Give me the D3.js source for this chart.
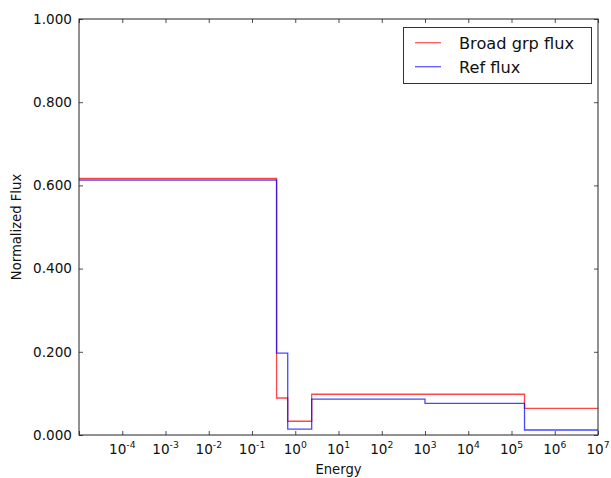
<!DOCTYPE html>
<html>
<head>
<meta charset="utf-8">
<script src="https://cdn.jsdelivr.net/npm/d3@7"></script>
<style>
  html, body { margin: 0; padding: 0; background: #fff; }
  svg { display: block; font-family: "DejaVu Sans", sans-serif; }
</style>
</head>
<body>
<svg id="chart" width="611" height="478"></svg>
<script>
// Group boundaries (energy) and normalized flux per group
const broadEdges = [1e-5, 0.37, 0.67, 2.4, 2e5, 1e7];
const broadFlux  = [0.617, 0.089, 0.033, 0.098, 0.064];
const refEdges   = [1e-5, 0.37, 0.67, 2.4, 1e3, 2e5, 1e7];
const refFlux    = [0.613, 0.197, 0.014, 0.086, 0.076, 0.012];

const xTickExps   = [-5, -4, -3, -2, -1, 0, 1, 2, 3, 4, 5, 6, 7];
const xLabelExps  = [-4, -3, -2, -1, 0, 1, 2, 3, 4, 5, 6, 7];
const yTicks      = [0, 0.2, 0.4, 0.6, 0.8, 1.0];
const legendNames = ["Broad grp flux", "Ref flux"];
const colors      = ["#ff0000", "#0000ff"];

const frame = { left: 79, top: 19, right: 598, bottom: 435 };
const svg = d3.select("#chart");

const x = d3.scaleLog().domain([1e-5, 1e7]).range([frame.left, frame.right]);
const y = d3.scaleLinear().domain([0, 1]).range([frame.bottom, frame.top]);

// Build step path: horizontal at each group's value across [edge_i, edge_i+1]
function stepPoints(edges, vals) {
  const pts = [];
  vals.forEach((v, i) => {
    pts.push([edges[i], v]);
    pts.push([edges[i + 1], v]);
  });
  return pts;
}
const line = d3.line().x(d => x(d[0])).y(d => y(d[1]));

const series = [
  { pts: stepPoints(broadEdges, broadFlux), color: colors[0] },
  { pts: stepPoints(refEdges, refFlux), color: colors[1] }
];

const plot = svg.append("g");
series.forEach(s => {
  plot.append("path")
    .attr("d", line(s.pts))
    .attr("fill", "none")
    .attr("stroke", s.color)
    .attr("stroke-opacity", 0.72)
    .attr("stroke-width", 1.3);
});

// Axes: ticks pointing inward on all four sides
const tickLen = 4;
const axisColor = "#222";
const tickFont = 13.6;

const axBottom = svg.append("g").attr("transform", `translate(0,${frame.bottom})`)
  .call(d3.axisBottom(x).tickValues(xTickExps.map(e => Math.pow(10, e)))
    .tickSize(-tickLen).tickFormat(() => ""));
const axTop = svg.append("g").attr("transform", `translate(0,${frame.top})`)
  .call(d3.axisTop(x).tickValues(xTickExps.map(e => Math.pow(10, e)))
    .tickSize(-tickLen).tickFormat(() => ""));
const axLeft = svg.append("g").attr("transform", `translate(${frame.left},0)`)
  .call(d3.axisLeft(y).tickValues(yTicks).tickSize(-tickLen).tickPadding(7)
    .tickFormat(d3.format(".3f")));
const axRight = svg.append("g").attr("transform", `translate(${frame.right},0)`)
  .call(d3.axisRight(y).tickValues(yTicks).tickSize(-tickLen).tickFormat(() => ""));

[axBottom, axTop, axLeft, axRight].forEach(g => {
  g.select(".domain").remove();
  g.selectAll("line").attr("stroke", axisColor).attr("stroke-width", 0.8);
});
axLeft.selectAll("text").attr("font-size", tickFont).attr("fill", "#111")
  .attr("font-family", "DejaVu Sans, sans-serif");

// plot frame
svg.append("rect")
  .attr("x", frame.left).attr("y", frame.top)
  .attr("width", frame.right - frame.left).attr("height", frame.bottom - frame.top)
  .attr("fill", "none").attr("stroke", axisColor).attr("stroke-width", 1);

// x tick labels with superscript exponents
const xl = svg.append("g");
xLabelExps.forEach(e => {
  const t = xl.append("text")
    .attr("x", x(Math.pow(10, e)))
    .attr("y", frame.bottom + 19)
    .attr("text-anchor", "middle")
    .attr("font-size", tickFont)
    .attr("fill", "#111");
  t.append("tspan").text("10");
  t.append("tspan").text(e < 0 ? "-" + Math.abs(e) : String(e))
    .attr("font-size", tickFont * 0.68)
    .attr("dy", -6);
});

// axis labels
svg.append("text")
  .attr("x", (frame.left + frame.right) / 2)
  .attr("y", 474)
  .attr("text-anchor", "middle")
  .attr("font-size", 13.2)
  .attr("fill", "#111")
  .text("Energy");

svg.append("text")
  .attr("transform", `translate(21,${(frame.top + frame.bottom) / 2}) rotate(-90)`)
  .attr("text-anchor", "middle")
  .attr("font-size", 13.2)
  .attr("fill", "#111")
  .text("Normalized Flux");

// legend
const lg = svg.append("g");
lg.append("rect")
  .attr("x", 403.5).attr("y", 27.5)
  .attr("width", 188).attr("height", 56)
  .attr("fill", "#fff").attr("stroke", "#333").attr("stroke-width", 1);
legendNames.forEach((name, i) => {
  const ly = 42.7 + i * 24;
  lg.append("line")
    .attr("x1", 415).attr("x2", 441)
    .attr("y1", ly).attr("y2", ly)
    .attr("stroke", colors[i]).attr("stroke-opacity", 0.65).attr("stroke-width", 1.3);
  lg.append("text")
    .attr("x", 459).attr("y", ly + 5.8)
    .attr("font-size", 16.2)
    .attr("fill", "#111")
    .text(name);
});
</script>
</body>
</html>
